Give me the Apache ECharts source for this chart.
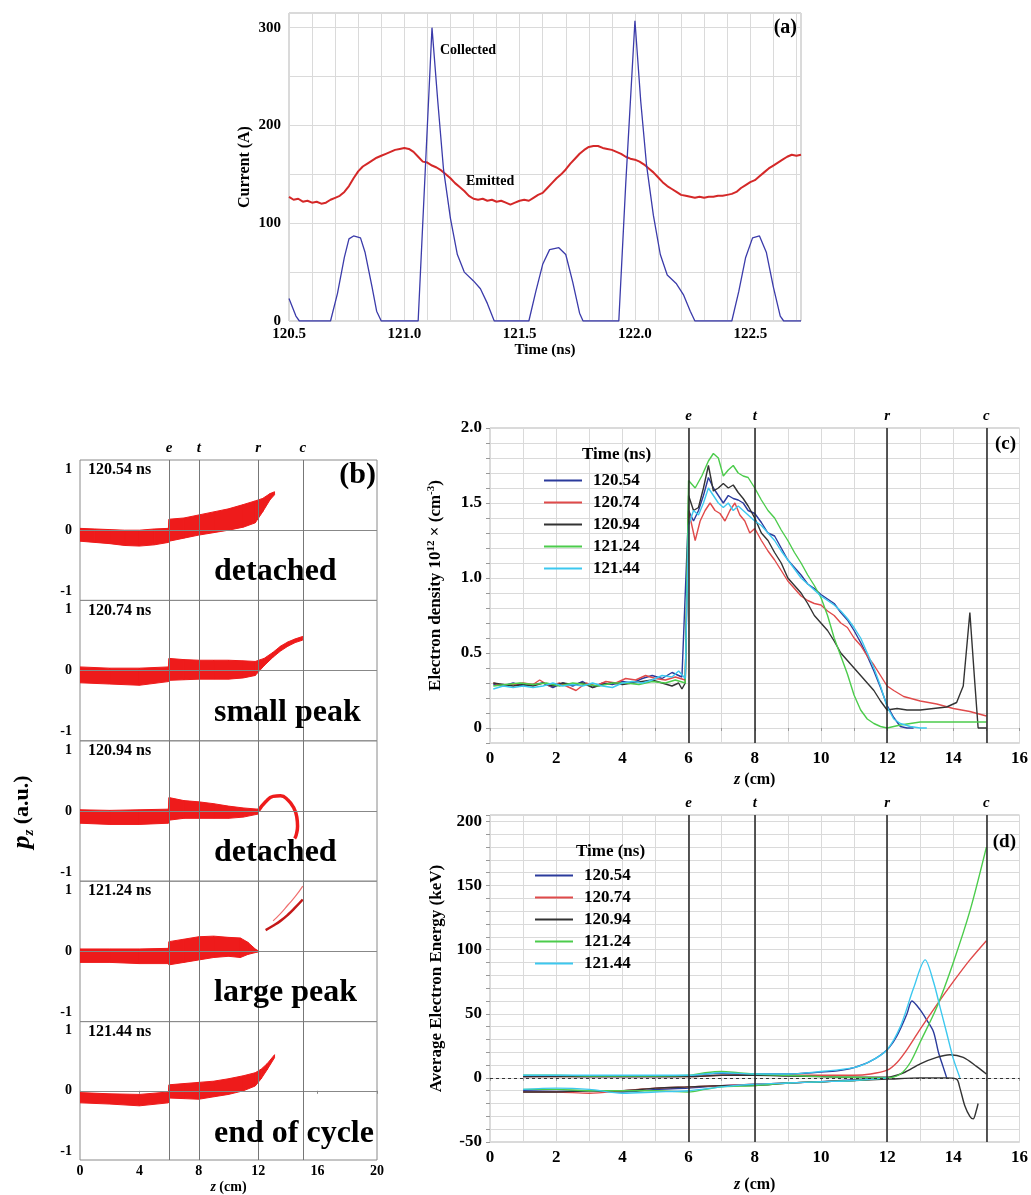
<!DOCTYPE html>
<html>
<head>
<meta charset="utf-8">
<script src="https://cdn.jsdelivr.net/npm/echarts@6/dist/echarts.min.js"></script>
</head>
<body style="margin:0">
<div id="container" style="width:1031px;height:1195px"></div>
<script type="text/javascript">
// ---------- data ----------
// (a) currents
var collectedT = [120.50,120.53,120.545,120.68,120.71,120.74,120.76,120.78,120.81,120.83,120.86,120.88,120.90,121.06,121.09,121.12,121.145,121.17,121.20,121.23,121.26,121.30,121.33,121.36,121.39,121.54,121.57,121.60,121.63,121.67,121.70,121.73,121.76,121.775,121.93,121.96,122.00,122.025,122.05,122.08,122.11,122.14,122.18,122.21,122.24,122.26,122.42,122.45,122.48,122.51,122.54,122.57,122.60,122.63,122.645,122.72];
var collectedA = [23,5,0,0,28,65,84,87,85,70,35,10,0,0,150,300,225,155,105,68,50,41,33,18,0,0,30,58,73,75,68,40,8,0,0,140,307,225,160,108,68,47,38,27,10,0,0,30,65,85,87,70,35,5,0,0];
var emittedStart = 120.5, emittedStep = 0.02;
var emittedA = [
  127,124,125,122,123,121,122,120,121,124,
  126,128,132,138,146,153,158,161,164,167,
  169,171,173,175,176,177,176,173,168,163,
  162,159,157,154,150,146,141,137,133,128,
  125,124,125,123,124,122,123,121,119,121,
  123,124,123,126,129,131,136,141,146,150,
  155,161,166,171,175,178,179,179,177,176,
  175,173,171,168,166,165,163,160,156,152,
  147,142,138,135,132,129,128,127,126,127,
  126,127,127,128,128,129,130,132,136,139,
  142,144,148,152,156,159,162,165,168,170,
  169,170];

// (b) phase space bands [z, low, high]
var bandTimes = ['120.54 ns', '120.74 ns', '120.94 ns', '121.24 ns', '121.44 ns'];
var bandWords = ['detached', 'small peak', 'detached', 'large peak', 'end of cycle'];
var b1Band = [[0,-.18,.03],[1,-.2,.02],[2,-.22,.01],[3,-.25,0],[4,-.26,0],[5,-.24,.02],[5.95,-.2,.03],[6,-.18,.18],[7,-.13,.2],[8,-.08,.25],[9,-.04,.3],[10,0,.35],[11,.05,.42],[11.8,.12,.48],[12.3,.3,.52],[12.8,.5,.6],[13.1,.58,.63]];
var b2Band = [[0,-.2,.06],[2,-.22,.04],[4,-.24,.04],[5.95,-.18,.06],[6,-.16,.2],[7,-.15,.18],[8,-.14,.17],[9,-.14,.17],[10,-.14,.17],[11,-.12,.16],[11.8,-.08,.15],[12.4,.08,.2],[13,.22,.3],[13.5,.32,.4],[14,.4,.47],[14.5,.46,.52],[15,.5,.56]];
var b3Band = [[0,-.2,.02],[2,-.22,.01],[4,-.22,.02],[5.95,-.2,.03],[6,-.15,.22],[7,-.12,.17],[8,-.12,.15],[9,-.12,.12],[10,-.12,.08],[11,-.1,.05],[12,-.05,.03]];
var b4Band = [[0,-.18,.04],[2,-.18,.04],[4,-.2,.04],[5.95,-.2,.05],[6,-.22,.16],[7,-.18,.2],[8,-.14,.24],[9,-.1,.25],[10,-.08,.23],[10.8,-.1,.22],[11.3,-.05,.15],[11.8,-.02,.04],[12,-.01,.01]];
var b5Band = [[0,-.2,-.03],[2,-.22,-.05],[4,-.25,-.06],[5.95,-.2,-.02],[6,-.12,.1],[7,-.13,.12],[8,-.14,.14],[9,-.1,.16],[10,-.06,.2],[11,0,.25],[11.8,.08,.3],[12.2,.2,.36],[12.6,.35,.45],[13.1,.55,.6]];
var b3Loop = [[12,0],[12.5,.15],[13,.24],[13.5,.25],[14,.18],[14.4,.05],[14.6,-.1],[14.65,-.25],[14.55,-.4],[14.45,-.45]];
var b4ArcA = [[13,.5],[13.5,.62],[14,.76],[14.5,.9],[15,1.07]];
var b4ArcB = [[12.5,.35],[13,.42],[13.5,.5],[14,.6],[14.5,.72],[15,.85]];

// (c) electron density
var timeNames = ['120.54', '120.74', '120.94', '121.24', '121.44'];
var cBlue = [[0.1,.29],[0.4,.28],[0.7,.3],[1.0,.28],[1.3,.29],[1.6,.3],[1.9,.27],[2.2,.3],[2.5,.28],[2.8,.31],[3.1,.27],[3.4,.3],[3.7,.29],[4.0,.31],[4.3,.3],[4.6,.33],[4.9,.35],[5.2,.33],[5.5,.37],[5.8,.34],[6.0,1.45],[6.15,1.38],[6.3,1.45],[6.45,1.55],[6.6,1.67],[6.75,1.6],[6.9,1.55],[7.05,1.5],[7.2,1.55],[7.35,1.53],[7.5,1.52],[7.65,1.5],[7.8,1.45],[8.0,1.43],[8.2,1.37],[8.4,1.3],[8.6,1.28],[8.8,1.2],[9.0,1.12],[9.2,1.07],[9.4,1.02],[9.6,0.96],[9.8,0.93],[10.0,0.89],[10.2,0.86],[10.4,0.83],[10.6,0.77],[10.8,0.72],[11.0,0.65],[11.2,0.57],[11.4,0.48],[11.6,0.38],[11.8,0.27],[12.0,0.15],[12.2,0.07],[12.4,0.01],[12.6,0.0],[12.8,0.0]];
var cRed = [[0.1,.3],[0.4,.28],[0.7,.29],[1.0,.3],[1.3,.29],[1.5,.32],[1.8,.28],[2.1,.3],[2.4,.27],[2.6,.25],[2.9,.3],[3.2,.28],[3.5,.31],[3.8,.3],[4.1,.33],[4.4,.32],[4.7,.35],[5.0,.33],[5.3,.32],[5.6,.34],[5.9,.32],[6.0,1.45],[6.2,1.25],[6.35,1.38],[6.5,1.45],[6.65,1.5],[6.8,1.45],[6.95,1.43],[7.1,1.38],[7.25,1.45],[7.4,1.5],[7.55,1.42],[7.7,1.38],[7.85,1.3],[8.0,1.33],[8.2,1.25],[8.4,1.18],[8.6,1.12],[8.8,1.05],[9.0,0.98],[9.2,0.93],[9.4,0.88],[9.6,0.85],[9.8,0.83],[10.0,0.82],[10.2,0.78],[10.4,0.75],[10.6,0.7],[10.8,0.67],[11.0,0.6],[11.2,0.55],[11.4,0.48],[11.6,0.42],[11.8,0.35],[12.0,0.28],[12.2,0.25],[12.5,0.21],[13.0,0.18],[13.5,0.16],[14.0,0.13],[14.5,0.11],[15.0,0.08]];
var cBlack = [[0.1,.3],[0.4,.29],[0.7,.28],[1.0,.29],[1.3,.28],[1.6,.3],[1.9,.28],[2.2,.3],[2.5,.29],[2.8,.3],[3.1,.27],[3.4,.29],[3.7,.3],[4.0,.29],[4.3,.3],[4.6,.31],[4.9,.32],[5.2,.3],[5.5,.28],[5.7,.3],[5.8,.26],[5.9,.3],[6.0,1.55],[6.15,1.45],[6.3,1.47],[6.45,1.6],[6.6,1.75],[6.75,1.58],[6.9,1.6],[7.05,1.63],[7.2,1.6],[7.35,1.62],[7.5,1.57],[7.65,1.53],[7.8,1.48],[8.0,1.4],[8.2,1.3],[8.4,1.25],[8.6,1.17],[8.8,1.1],[9.0,1.0],[9.2,0.95],[9.4,0.9],[9.6,0.83],[9.8,0.75],[10.0,0.7],[10.2,0.65],[10.4,0.58],[10.6,0.5],[10.8,0.45],[11.0,0.4],[11.2,0.35],[11.4,0.3],[11.6,0.25],[11.8,0.18],[12.0,0.12],[12.3,0.13],[12.6,0.12],[13.0,0.12],[13.4,0.13],[13.8,0.14],[14.1,0.17],[14.3,0.28],[14.5,0.77],[14.65,0.3],[14.75,0.0],[15.0,0.0]];
var cGreen = [[0.1,.28],[0.5,.29],[0.9,.3],[1.3,.29],[1.7,.3],[2.1,.28],[2.5,.3],[2.9,.29],[3.3,.28],[3.7,.3],[4.1,.3],[4.5,.29],[4.9,.31],[5.3,.3],[5.6,.32],[5.9,.3],[6.0,1.65],[6.2,1.6],[6.4,1.68],[6.6,1.78],[6.75,1.83],[6.9,1.8],[7.05,1.68],[7.2,1.72],[7.35,1.75],[7.5,1.7],[7.65,1.68],[7.8,1.67],[8.0,1.6],[8.2,1.52],[8.4,1.45],[8.6,1.4],[8.8,1.32],[9.0,1.25],[9.2,1.17],[9.4,1.1],[9.6,1.02],[9.8,0.95],[10.0,0.87],[10.2,0.75],[10.4,0.6],[10.6,0.48],[10.8,0.36],[11.0,0.22],[11.2,0.12],[11.4,0.06],[11.6,0.03],[11.8,0.01],[12.0,0.0],[12.4,0.02],[13.0,0.04],[14.0,0.04],[15.0,0.04]];
var cCyan = [[0.1,.26],[0.4,.28],[0.7,.27],[1.0,.28],[1.3,.27],[1.6,.28],[1.9,.3],[2.2,.28],[2.5,.29],[2.8,.28],[3.1,.3],[3.4,.28],[3.7,.27],[4.0,.3],[4.3,.31],[4.6,.3],[4.9,.32],[5.2,.35],[5.5,.34],[5.7,.38],[5.9,.33],[6.0,1.35],[6.15,1.45],[6.3,1.42],[6.45,1.5],[6.6,1.6],[6.75,1.55],[6.9,1.5],[7.05,1.47],[7.2,1.5],[7.35,1.45],[7.5,1.48],[7.65,1.45],[7.8,1.42],[8.0,1.38],[8.2,1.35],[8.4,1.3],[8.6,1.25],[8.8,1.18],[9.0,1.12],[9.2,1.06],[9.4,1.0],[9.6,0.96],[9.8,0.92],[10.0,0.88],[10.2,0.85],[10.4,0.82],[10.6,0.78],[10.8,0.73],[11.0,0.67],[11.2,0.6],[11.4,0.5],[11.6,0.4],[11.8,0.28],[12.0,0.14],[12.2,0.06],[12.4,0.03],[12.7,0.01],[13.0,0.0],[13.2,0.0]];

// (d) average electron energy, two branches per time
var dBlueUp = [[1,1],[2,1.5],[3,1],[4,1],[5,1],[6,1.5],[6.5,3],[7,3.5],[7.5,3],[8,3],[9,3],[10,4.5],[10.5,5.5],[11,8],[11.5,13],[12,22],[12.3,33],[12.6,50],[12.75,60],[13.0,53],[13.2,45],[13.4,36],[13.55,20],[13.7,8],[13.8,0]];
var dBlueLo = [[1,-10],[2,-10.5],[3,-10],[4,-11],[5,-9],[6,-8],[7,-6],[8,-5],[9,-4],[10,-3],[11,-1.5],[12,0]];
var dRedUp = [[1,1],[2,1],[3,1],[4,1],[5,1],[6,1],[7,2],[8,2],[9,2],[10,2],[11,2],[11.5,3],[12,6],[12.3,12],[12.6,22],[13,38],[13.5,57],[14,75],[14.5,92],[15,107]];
var dRedLo = [[1,-11],[2,-11],[3,-12],[4,-10],[5,-8],[6,-7],[7,-6],[8,-5],[9,-4],[10,-3],[11,-2],[12,0]];
var dBlackUp = [[1,1],[2,1],[3,1],[4,1],[5,1],[6,1],[7,2],[8,2],[9,1.5],[10,1],[11,0.5],[12,0.5],[12.5,4],[13,11],[13.5,16],[13.9,18],[14.3,16],[14.7,9],[15,3]];
var dBlackLo = [[1,-11],[2,-11],[3,-10],[4,-10],[5,-8],[6,-7],[7,-6],[8,-6],[9,-4],[10,-3],[11,-2],[12,-1],[13,0],[13.8,0],[14.1,-1],[14.2,-8],[14.35,-22],[14.5,-30],[14.6,-32],[14.7,-25],[14.75,-20]];
var dGreenUp = [[1,2],[2,2],[3,1.5],[4,1.5],[5,1.5],[6,2],[6.5,4],[7,5],[7.5,4],[8,3],[9,2],[10,1],[11,0.5],[12,0],[12.4,3],[12.7,12],[13,28],[13.5,55],[14,90],[14.5,130],[15,180]];
var dGreenLo = [[1,-9],[2,-9],[3,-10],[4,-10],[5,-10],[6,-11],[6.5,-9],[7,-7],[8,-6],[9,-4],[10,-3],[11,-2],[12,0]];
var dCyanUp = [[1,2],[2,2],[3,2],[4,2],[5,2],[6,2],[7,4],[8,3],[9,3],[10,5],[11,8],[11.5,13],[12,22],[12.4,40],[12.8,70],[13.15,92],[13.4,75],[13.6,55],[13.8,35],[14.0,15],[14.2,0]];
var dCyanLo = [[1,-9],[2,-8],[3,-9],[4,-12],[5,-11],[6,-10],[7,-7],[8,-5],[9,-4],[10,-3],[11,-2],[12,0]];

// ---------- chart ----------
var SERIF = 'Liberation Serif';
var GRID_LINE = '#dadada';
var colors = ['#2b3b9c', '#e04a4a', '#333333', '#4ccc4c', '#3cc8ef'];
var boxTops = [460, 600.4, 740.8, 881.2, 1021.6];
var bands = [b1Band, b2Band, b3Band, b4Band, b5Band];

var dom = document.getElementById('container');
var myChart = echarts.init(dom);

function txt(size, extra) {
    var s = {fontFamily: SERIF, fontWeight: 'bold', fontSize: size, color: '#000'};
    for (var k in extra) s[k] = extra[k];
    return s;
}

function bandRenderer(band) {
    return function (params, api) {
        var i = params.dataIndex;
        if (i >= band.length - 1) return null;
        var a = band[i], b = band[i + 1];
        var pts = [api.coord([a[0], a[2]]), api.coord([b[0], b[2]]),
                   api.coord([b[0], b[1]]), api.coord([a[0], a[1]])];
        return {type: 'polygon', shape: {points: pts},
                style: {fill: '#ee1b1b', stroke: '#ee1b1b', lineWidth: 1}};
    };
}

var collectedData = collectedT.map(function (t, i) { return [t, collectedA[i]]; });
var emittedData = emittedA.map(function (v, i) { return [emittedStart + i * emittedStep, v]; });

var grids = [{left: 289, top: 13, width: 512, height: 308, show: true, borderColor: '#b5b5b5'}];
boxTops.forEach(function (t) {
    grids.push({left: 80, top: t, width: 297, height: 140.4, show: true, borderColor: '#8a8a8a'});
});
grids.push({left: 490, top: 428, width: 530, height: 315, show: true, borderColor: '#b5b5b5'});
grids.push({left: 490, top: 815, width: 530, height: 327, show: true, borderColor: '#b5b5b5'});

var zName = {
    name: '{i|z}{n| (cm)}',
    nameTextStyle: {rich: {i: txt(16, {fontStyle: 'italic'}), n: txt(16)}}
};
var yTick = {show: true, length: 4, lineStyle: {color: '#999'}};

var xAxes = [{
    gridIndex: 0, type: 'value', min: 120.5, max: 122.72, interval: 0.1,
    axisLine: {show: false}, axisTick: {show: false},
    splitLine: {lineStyle: {color: GRID_LINE}},
    axisLabel: txt(15, {interval: 0, margin: 6, formatter: function (v) {
        var r = Math.round(v * 10) / 10;
        return Math.abs(r * 2 - Math.round(r * 2)) < 1e-6 ? r.toFixed(1) : '';
    }}),
    name: 'Time (ns)', nameLocation: 'middle', nameGap: 22, nameTextStyle: txt(15)
}];
boxTops.forEach(function (t, k) {
    var last = k === boxTops.length - 1;
    var ax = {
        gridIndex: k + 1, type: 'value', min: 0, max: 20, interval: 4,
        axisLine: {show: false}, splitLine: {show: false},
        axisTick: {show: last, length: 3, lineStyle: {color: '#888'}},
        axisLabel: txt(14, {show: last, margin: 4})
    };
    if (last) {
        ax.name = '{i|z}{n| (cm)}';
        ax.nameLocation = 'middle';
        ax.nameGap = 20;
        ax.nameTextStyle = {rich: {i: txt(14, {fontStyle: 'italic'}), n: txt(14)}};
    }
    xAxes.push(ax);
});
[6, 7].forEach(function (g) {
    xAxes.push({
        gridIndex: g, type: 'value', min: 0, max: 16, interval: 1,
        axisLine: {show: false},
        axisTick: {show: true, length: 3, lineStyle: {color: '#999'}},
        splitLine: {lineStyle: {color: GRID_LINE}},
        axisLabel: txt(17, {interval: 0, margin: 7, formatter: function (v) { return v % 2 === 0 ? String(v) : ''; }}),
        name: zName.name, nameLocation: 'middle', nameGap: g === 6 ? 29 : 35, nameTextStyle: zName.nameTextStyle
    });
});

var yAxes = [{
    gridIndex: 0, type: 'value', min: 0, max: 315, interval: 50,
    axisLine: {show: false}, axisTick: {show: false},
    splitLine: {lineStyle: {color: GRID_LINE}},
    axisLabel: txt(15, {interval: 0, margin: 8, formatter: function (v) { return v % 100 === 0 ? String(v) : ''; }}),
    name: 'Current (A)', nameLocation: 'middle', nameGap: 36, nameTextStyle: txt(16)
}];
boxTops.forEach(function (t, k) {
    yAxes.push({
        gridIndex: k + 1, type: 'value', min: -1.15, max: 1.15,
        axisLine: {show: false}, splitLine: {show: false},
        axisTick: {show: false},
        axisLabel: txt(14, {margin: 8, customValues: [-1, 0, 1]})
    });
});
yAxes.push({
    gridIndex: 6, type: 'value', min: -0.1, max: 2.0, interval: 0.1,
    axisLine: {show: false}, axisTick: yTick,
    splitLine: {lineStyle: {color: GRID_LINE}},
    axisLabel: txt(17, {interval: 0, margin: 8, formatter: function (v) {
        var r = Math.round(v * 10) / 10;
        if (r < 0 || Math.abs(r * 2 - Math.round(r * 2)) > 1e-6) return '';
        return r === 0 ? '0' : r.toFixed(1);
    }}),
    name: '{b|Electron density 10}{s|12}{b| × (cm}{s|-3}{b|)}', nameLocation: 'middle', nameGap: 44,
    nameTextStyle: {rich: {b: txt(17, {lineHeight: 20}), s: txt(11, {verticalAlign: 'top', lineHeight: 12})}}
});
yAxes.push({
    gridIndex: 7, type: 'value', min: -50, max: 205, interval: 10,
    axisLine: {show: false}, axisTick: yTick,
    splitLine: {lineStyle: {color: GRID_LINE}},
    axisLabel: txt(17, {interval: 0, margin: 8, formatter: function (v) { return v % 50 === 0 ? String(v) : ''; }}),
    name: 'Average Electron Energy (keV)', nameLocation: 'middle', nameGap: 42, nameTextStyle: txt(17)
});

function vLines(withLabels, color, width) {
    var marks = [['e', 6], ['t', 8], ['r', 12], ['c', 15]];
    return marks.map(function (m) {
        return {xAxis: m[1], lineStyle: {color: color, width: width, type: 'solid'},
                label: {show: withLabels, formatter: m[0]}};
    });
}
var markLabel = txt(15, {fontStyle: 'italic', position: 'end', distance: 4});

var series = [
    {name: 'Collected', type: 'line', xAxisIndex: 0, yAxisIndex: 0, data: collectedData, symbol: 'none',
     lineStyle: {color: '#3b3baa', width: 1.3}, itemStyle: {color: '#3b3baa'}, z: 3},
    {name: 'Emitted', type: 'line', xAxisIndex: 0, yAxisIndex: 0, data: emittedData, symbol: 'none',
     lineStyle: {color: '#d42828', width: 2}, itemStyle: {color: '#d42828'}, z: 2}
];

bands.forEach(function (band, k) {
    var ml = [{yAxis: 0, lineStyle: {color: '#888', width: 1, type: 'solid'}, label: {show: false}}]
        .concat(vLines(k === 0, '#777', 1));
    series.push({
        name: 'guide', type: 'line', xAxisIndex: k + 1, yAxisIndex: k + 1, data: [[0, 0]], symbol: 'none', z: 1,
        markLine: {silent: true, symbol: 'none', label: markLabel, data: ml}
    });
    series.push({
        name: bandTimes[k], type: 'custom', xAxisIndex: k + 1, yAxisIndex: k + 1, clip: true, silent: true,
        renderItem: bandRenderer(band), data: band, encode: {x: 0, y: [1, 2]}, z: 3
    });
});
series.push({name: 'loop', type: 'line', xAxisIndex: 3, yAxisIndex: 3, data: b3Loop, symbol: 'none', smooth: true,
             lineStyle: {color: '#ee1b1b', width: 3.5}, z: 4});
series.push({name: 'arcA', type: 'line', xAxisIndex: 4, yAxisIndex: 4, data: b4ArcA, symbol: 'none', smooth: true,
             lineStyle: {color: '#f07070', width: 1.2}, z: 4});
series.push({name: 'arcB', type: 'line', xAxisIndex: 4, yAxisIndex: 4, data: b4ArcB, symbol: 'none', smooth: true,
             lineStyle: {color: '#c41818', width: 2.5}, z: 4});

var cData = [cBlue, cRed, cBlack, cGreen, cCyan];
cData.forEach(function (d, k) {
    var s = {name: timeNames[k], type: 'line', xAxisIndex: 6, yAxisIndex: 6, data: d, symbol: 'none',
             lineStyle: {color: colors[k], width: 1.4}, itemStyle: {color: colors[k]}, z: 3};
    if (k === 0) s.markLine = {silent: true, symbol: 'none', label: markLabel, data: vLines(true, '#222', 1.5)};
    series.push(s);
});

var dData = [[dBlueUp, dBlueLo], [dRedUp, dRedLo], [dBlackUp, dBlackLo], [dGreenUp, dGreenLo], [dCyanUp, dCyanLo]];
dData.forEach(function (pair, k) {
    pair.forEach(function (d, j) {
        var s = {name: timeNames[k], type: 'line', xAxisIndex: 7, yAxisIndex: 7, data: d, symbol: 'none', smooth: 0.3,
                 lineStyle: {color: colors[k], width: 1.4}, itemStyle: {color: colors[k]}, z: 3};
        if (k === 0 && j === 0) {
            s.markLine = {silent: true, symbol: 'none', label: markLabel,
                data: vLines(true, '#222', 1.5).concat([{yAxis: 0, label: {show: false},
                    lineStyle: {color: '#333', width: 1, type: [3, 3]}}])};
        }
        series.push(s);
    });
});

function legendAt(left, top) {
    return {
        data: timeNames, orient: 'vertical', left: left, top: top, icon: 'rect',
        itemWidth: 38, itemHeight: 2, itemGap: 5, selectedMode: false,
        textStyle: txt(17, {lineHeight: 17, padding: [0, 0, 0, 6]})
    };
}

function label(x, y, text, size, align) {
    return {type: 'text', x: x, y: y, z: 10,
            style: txt(size, {text: text, fill: '#000', textAlign: align || 'left', align: align || 'left',
                              textVerticalAlign: 'middle', verticalAlign: 'middle'})};
}

var graphics = [
    label(797, 28, '(a)', 20, 'right'),
    label(440, 50, 'Collected', 14),
    label(466, 181, 'Emitted', 14),
    label(376, 475, '(b)', 30, 'right'),
    label(1016, 444, '(c)', 19, 'right'),
    label(1016, 842, '(d)', 19, 'right'),
    label(582, 455, 'Time (ns)', 17),
    label(576, 852, 'Time (ns)', 17),
    {type: 'text', x: 22, y: 812, rotation: Math.PI / 2,
     style: {text: '{i|p}{s|z}{n| (a.u.)}', textAlign: 'center', textVerticalAlign: 'middle', align: 'center', verticalAlign: 'middle',
             rich: {i: txt(26, {fontStyle: 'italic', fill: '#000', lineHeight: 30}),
                    s: txt(15, {fontStyle: 'italic', fill: '#000', verticalAlign: 'bottom', lineHeight: 30}),
                    n: txt(22, {fill: '#000', lineHeight: 30})}}}
];
boxTops.forEach(function (t, k) {
    graphics.push(label(88, t + 10, bandTimes[k], 16));
    graphics.push(label(214, t + 112, bandWords[k], 32));
});

var option = {
    backgroundColor: '#fff',
    animation: false,
    grid: grids,
    xAxis: xAxes,
    yAxis: yAxes,
    legend: [legendAt(539, 467), legendAt(530, 862)],
    series: series,
    graphic: graphics
};
myChart.setOption(option);
</script>
</body>
</html>
